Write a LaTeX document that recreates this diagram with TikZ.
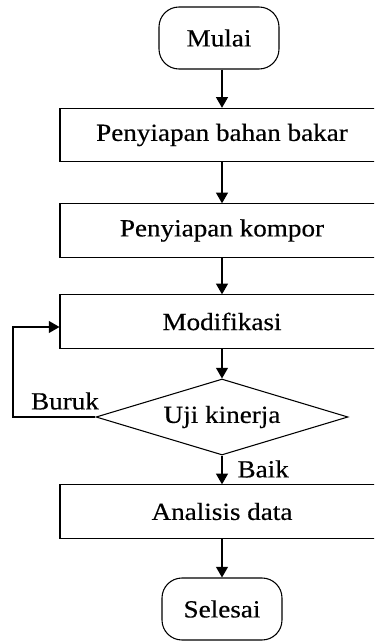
\documentclass[tikz,border=0pt]{standalone}
\usepackage{fontspec}
\setmainfont{Liberation Serif}[FakeStretch=1.1,FakeBold=0.4]
\usetikzlibrary{shapes.geometric,arrows.meta}
\begin{document}
\begin{tikzpicture}[x=0.75pt,y=-0.75pt,
  font=\fontsize{18.5pt}{22pt}\selectfont,
  line width=0.8pt,
  proc/.style={draw, minimum width=243pt, minimum height=40pt, inner sep=0pt},
  term/.style={draw, rounded corners=15pt, minimum width=90pt, minimum height=46.5pt, inner sep=0pt},
  dec/.style={draw, diamond, aspect=3.3, minimum width=189pt, minimum height=57pt, inner sep=0pt},
  lbl/.style={inner sep=0pt},
  arr/.style={-{Triangle[length=8pt,width=9pt]}}]
\useasboundingbox (0,0) rectangle (374,641);
\clip (0,0) rectangle (374,641);
\node[term] (mulai) at (219,38) {Mulai};
\node[proc] (b1) at (222,135) {Penyiapan bahan bakar};
\node[proc] (b2) at (222,230.5) {Penyiapan kompor};
\node[proc] (b3) at (222,321.5) {Modifikasi};
\node[dec]  (uji) at (222,417) {Uji kinerja};
\node[proc] (b4) at (222,511.5) {Analisis data};
\node[term] (selesai) at (222,609) {Selesai};
\coordinate (lc) at (13,327);
\node[lbl] (buruk) at (65,401) {Buruk};
\node[lbl, anchor=west] (baik) at (237,469) {Baik};
\draw[arr] (b1.north |- mulai.south) -- (b1.north);
\draw[arr] (b1) -- (b2);
\draw[arr] (b2) -- (b3);
\draw[arr] (b3) -- (uji);
\draw[arr] (uji) -- (b4);
\draw[arr] (b4) -- (selesai);
\draw[arr] (uji.west) -- (lc |- uji.west) -- (lc) -- (lc -| b3.west);
\end{tikzpicture}
\end{document}
